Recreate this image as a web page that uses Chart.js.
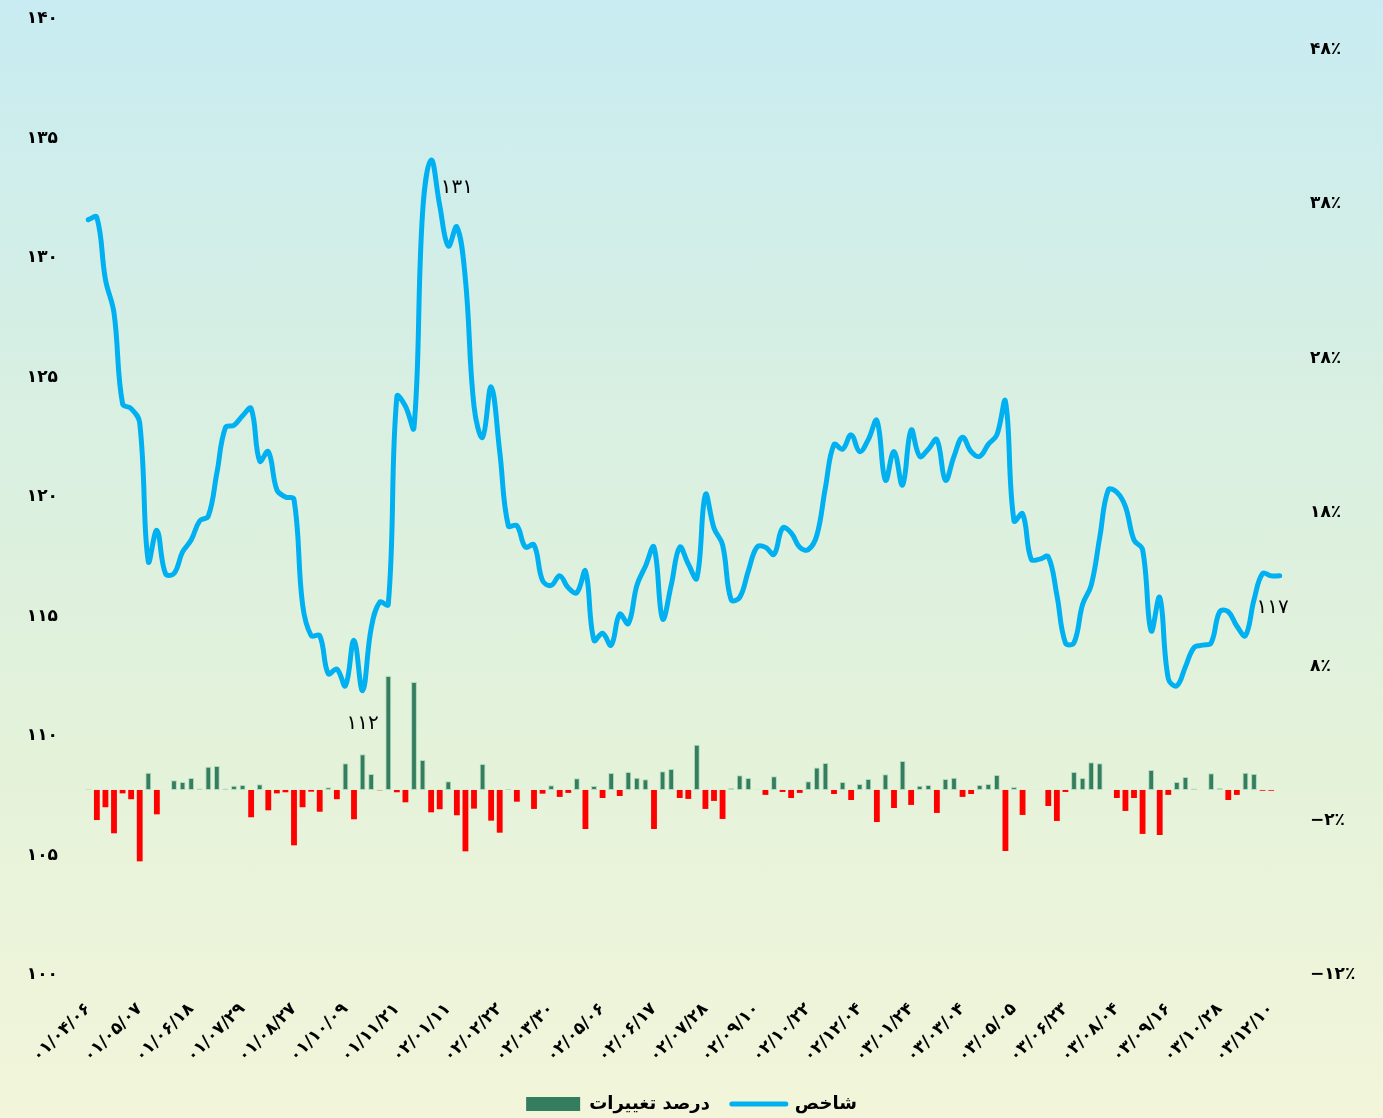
<!DOCTYPE html>
<html lang="fa">
<head>
<meta charset="UTF-8">
<meta name="viewport" content="width=device-width, initial-scale=1.0">
<title>شاخص و درصد تغییرات</title>
<script src="https://cdn.jsdelivr.net/npm/chart.js"></script>
<style>
  html, body { margin: 0; padding: 0; }
  body {
    width: 1383px;
    height: 1118px;
    background: linear-gradient(to bottom, #c8ecf2 0%, #d8efe2 35%, #e3f2da 65%, #f2f5da 100%);
  }
  #wrap { position: relative; width: 1383px; height: 1118px; }
</style>
</head>
<body>
<div id="wrap"><canvas id="chart"></canvas></div>

<script>
// tick labels on the date axis (one every 6 weeks)
const dateLabels = [
  '۰۱/۰۴/۰۶', '۰۱/۰۵/۰۷', '۰۱/۰۶/۱۸', '۰۱/۰۷/۲۹', '۰۱/۰۸/۲۷', '۰۱/۱۰/۰۹',
  '۰۱/۱۱/۲۱', '۰۲/۰۱/۱۱', '۰۲/۰۲/۲۲', '۰۲/۰۳/۳۰', '۰۲/۰۵/۰۶', '۰۲/۰۶/۱۷',
  '۰۲/۰۷/۲۸', '۰۲/۰۹/۱۰', '۰۲/۱۰/۲۲', '۰۲/۱۲/۰۴', '۰۳/۰۱/۲۴', '۰۳/۰۳/۰۴',
  '۰۳/۰۵/۰۵', '۰۳/۰۶/۲۳', '۰۳/۰۸/۰۴', '۰۳/۰۹/۱۶', '۰۳/۱۰/۲۸', '۰۳/۱۲/۱۰'
];
const labelStep = 6;

// شاخص (left axis)
const indexValues = [
  131.6, 131.7, 129.1, 127.7, 123.9, 123.7, 123.1, 117.3, 118.6, 116.8,
  116.8, 117.7, 118.2, 119.0, 119.2, 121.0, 122.9, 123.0, 123.4, 123.7,
  121.5, 121.9, 120.3, 120.0, 119.9, 115.5, 114.2, 114.2, 112.6, 112.8,
  112.1, 114.0, 111.9, 114.5, 115.6, 115.5, 124.2, 123.8, 122.9, 131.9,
  134.1, 132.2, 130.5, 131.3, 129.1, 123.8, 122.5, 124.6, 121.9, 118.8,
  118.8, 117.9, 118.0, 116.5, 116.3, 116.7, 116.2, 116.0, 116.9, 114.0,
  114.3, 113.8, 115.1, 114.7, 116.3, 117.1, 117.9, 114.9, 116.3, 117.9,
  117.2, 116.6, 120.1, 118.7, 118.0, 115.7, 115.8, 116.9, 117.9, 117.9,
  117.6, 118.7, 118.5, 117.9, 117.8, 118.4, 120.4, 122.2, 122.0, 122.6,
  121.9, 122.4, 123.2, 120.7, 121.9, 120.5, 122.8, 121.7, 122.0, 122.4,
  120.7, 121.7, 122.5, 121.9, 121.7, 122.2, 122.6, 124.0, 119.0, 119.3,
  117.4, 117.4, 117.5, 115.9, 113.9, 113.9, 115.5, 116.3, 118.3, 120.3,
  120.2, 119.6, 118.2, 117.8, 114.4, 115.8, 112.4, 112.1, 112.9, 113.7,
  113.8, 113.9, 115.2, 115.2, 114.6, 114.2, 115.7, 116.8, 116.7, 116.7
];

// درصد تغییرات (right axis, %)
const changePct = [
  0.05, -1.95, -1.12, -2.81, -0.22, -0.6, -4.63, 1.12, -1.58, 0.02,
  0.63, 0.52, 0.78, 0.1, 1.51, 1.56, 0.1, 0.28, 0.32, -1.77,
  0.37, -1.32, -0.22, -0.15, -3.59, -1.12, -0.11, -1.41, 0.17, -0.6,
  1.73, -1.9, 2.31, 1.04, -0.02, 7.39, -0.15, -0.8, 7.0, 1.95,
  -1.45, -1.25, 0.56, -1.64, -3.98, -1.21, 1.69, -1.99, -2.77, 0.06,
  -0.76, 0.02, -1.23, -0.24, 0.3, -0.45, -0.19, 0.76, -2.53, 0.26,
  -0.52, 1.1, -0.39, 1.17, 0.8, 0.69, -2.53, 1.21, 1.36, -0.52,
  -0.58, 2.94, -1.23, -0.71, -1.88, 0.13, 0.95, 0.78, 0.03, -0.32,
  0.89, -0.13, -0.52, -0.19, 0.56, 1.45, 1.75, -0.26, 0.52, -0.65,
  0.39, 0.71, -2.08, 1.02, -1.17, 1.88, -0.97, 0.28, 0.32, -1.49,
  0.71, 0.8, -0.45, -0.26, 0.32, 0.39, 0.97, -3.96, 0.19, -1.62,
  0.01, 0.01, -1.04, -2.01, -0.13, 1.17, 0.78, 1.79, 1.73, 0.01,
  -0.52, -1.36, -0.52, -2.85, 1.3, -2.92, -0.32, 0.52, 0.84, 0.09,
  0.01, 1.08, 0.13, -0.65, -0.32, 1.12, 1.04, -0.05, -0.05, null
];

const pctTicks = [-12, -2, 8, 18, 28, 38, 48];
const labeledPoints = [43, 32, 139];

const GREEN = '#347d5f';
const RED = '#ff0000';
const BLUE = '#00b0f0';
const FONT = "'DejaVu Sans', sans-serif";

const faDigits = '۰۱۲۳۴۵۶۷۸۹';
function toFa(n) {
  return String(n).replace(/\d/g, d => faDigits[d]);
}
function pctLabel(v) {
  return (v < 0 ? '−' + toFa(-v) : toFa(v)) + '٪';
}

const labels = indexValues.map((_, i) => i % labelStep === 0 ? dateLabels[i / labelStep] : '');

// the y axes ask for a lot of room above/below; the labels fit in the page margin anyway
function trimAxis(s, width) {
  s.width = width;
  s.paddingTop = 0;
  s.paddingBottom = 0;
}

// value labels next to a few points of the line
const pointLabels = {
  id: 'pointLabels',
  afterDatasetsDraw(chart) {
    const meta = chart.getDatasetMeta(1);
    const offsets = { 43: [0, -39], 32: [0, 33], 139: [-7, 32] };
    const c = chart.ctx;
    c.save();
    c.font = '20px ' + FONT;
    c.fillStyle = '#000';
    c.textAlign = 'center';
    c.textBaseline = 'middle';
    labeledPoints.forEach(i => {
      const p = meta.data[i];
      const [dx, dy] = offsets[i];
      c.fillText(toFa(Math.round(indexValues[i])), p.x + dx, p.y + dy);
    });
    c.restore();
  }
};

new Chart(document.getElementById('chart'), {
  type: 'bar',
  data: {
    labels: labels,
    datasets: [
      {
        type: 'bar',
        label: 'درصد تغییرات',
        data: changePct,
        yAxisID: 'yPct',
        backgroundColor: c => (c.raw === null || c.raw >= 0) ? GREEN : RED,
        borderColor: c => (c.raw === null || c.raw >= 0) ? 'rgba(170,215,185,0.9)' : RED,
        borderWidth: c => (c.raw === null || c.raw >= 0) ? 1 : 0,
        borderSkipped: false,
        barPercentage: 0.68,
        categoryPercentage: 1.0,
        order: 2
      },
      {
        type: 'line',
        label: 'شاخص',
        data: indexValues,
        yAxisID: 'yIdx',
        borderColor: BLUE,
        backgroundColor: BLUE,
        borderWidth: 5,
        borderCapStyle: 'round',
        borderJoinStyle: 'round',
        pointRadius: 0,
        pointStyle: 'line',
        tension: 0.4,
        order: 1
      }
    ]
  },
  options: {
    responsive: true,
    maintainAspectRatio: false,
    animation: false,
    layout: { padding: { top: 19, left: 0, right: 0, bottom: -5 } },
    scales: {
      x: {
        grid: { display: false, drawTicks: false },
        border: { display: false },
        ticks: {
          autoSkip: false,
          maxRotation: 45,
          minRotation: 45,
          padding: 24,
          color: '#000',
          font: { family: FONT, size: 17, weight: 'bold' }
        },
        afterFit: s => { s.height = 98; }
      },
      yIdx: {
        position: 'left',
        min: 100,
        max: 140,
        grid: { display: false, drawTicks: false },
        border: { display: false },
        ticks: {
          stepSize: 5,
          padding: 26,
          color: '#000',
          font: { family: FONT, size: 17, weight: 'bold' },
          callback: v => toFa(v)
        },
        afterFit: s => trimAxis(s, 84)
      },
      yPct: {
        position: 'right',
        min: -12,
        max: 50,
        grid: { display: false, drawTicks: false },
        border: { display: false },
        afterBuildTicks: s => { s.ticks = pctTicks.map(v => ({ value: v })); },
        ticks: {
          padding: 26,
          color: '#000',
          font: { family: FONT, size: 17, weight: 'bold' },
          callback: v => pctLabel(v)
        },
        afterFit: s => trimAxis(s, 99)
      }
    },
    plugins: {
      tooltip: { enabled: false },
      legend: {
        position: 'bottom',
        labels: {
          usePointStyle: true,
          pointStyleWidth: 54,
          boxHeight: 14,
          padding: 22,
          color: '#000',
          font: { family: FONT, size: 18, weight: 'bold' },
          sort: (a, b) => a.datasetIndex - b.datasetIndex,
          generateLabels: chart => {
            const items = Chart.defaults.plugins.legend.labels.generateLabels(chart);
            items.forEach(it => {
              if (it.datasetIndex === 0) {
                it.fillStyle = GREEN;
                it.strokeStyle = GREEN;
                it.lineWidth = 0;
                it.pointStyle = 'rect';
              } else {
                it.strokeStyle = BLUE;
                it.lineWidth = 5;
                it.lineCap = 'round';
                it.pointStyle = 'line';
              }
            });
            return items;
          }
        }
      }
    }
  },
  plugins: [pointLabels]
});
</script>
</body>
</html>
